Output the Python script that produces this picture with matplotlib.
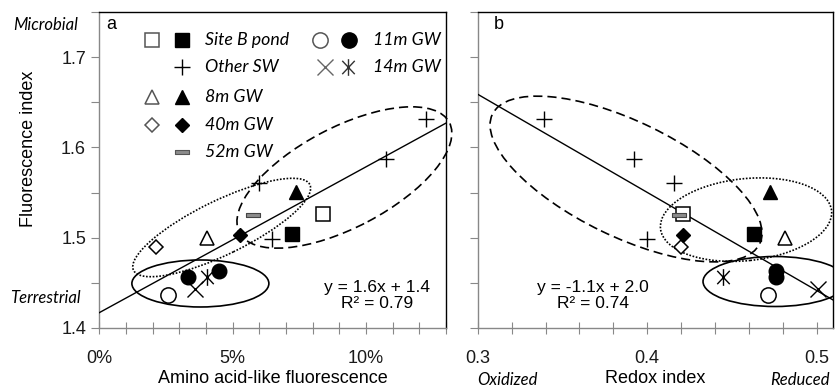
import numpy as np
import matplotlib.pyplot as plt
from matplotlib.patches import Ellipse
from matplotlib.path import Path
from matplotlib import transforms
from matplotlib.ticker import MultipleLocator, PercentFormatter, FormatStrFormatter

plt.rcParams['font.family'] = ['Liberation Sans', 'DejaVu Sans']

# fluorescence index (fi), amino acid-like fluorescence (aa, fraction), redox index (ri)
sb_open_fi, sb_open_aa, sb_open_ri = [1.526], [0.0837], [0.421]
sb_fill_fi, sb_fill_aa, sb_fill_ri = [1.504], [0.0724], [0.463]
sw_fi = [1.632, 1.587, 1.561, 1.499]
sw_aa = [0.1225, 0.1076, 0.0597, 0.0649]
sw_ri = [0.339, 0.392, 0.416, 0.400]
gw8_open_fi, gw8_open_aa, gw8_open_ri = [1.500], [0.0403], [0.481]
gw8_fill_fi, gw8_fill_aa, gw8_fill_ri = [1.551], [0.0738], [0.4725]
gw40_open_fi, gw40_open_aa, gw40_open_ri = [1.490], [0.0212], [0.4198]
gw40_fill_fi, gw40_fill_aa, gw40_fill_ri = [1.503], [0.0529], [0.421]
gw52_fi, gw52_aa, gw52_ri = [1.525], [0.0576], [0.419]
gw11_open_fi, gw11_open_aa, gw11_open_ri = [1.437], [0.0257], [0.4715]
gw11_fill_fi, gw11_fill_aa, gw11_fill_ri = [1.457, 1.463], [0.0334, 0.0450], [0.476, 0.476]
gw14_x_fi, gw14_x_aa, gw14_x_ri = [1.443], [0.0359], [0.501]
gw14_ast_fi, gw14_ast_aa, gw14_ast_ri = [1.457], [0.0405], [0.445]

# trend lines (slope, intercept)
fit_a = (1.615, 1.417)
fit_b = (-1.087, 1.985)
eq_a = 'y = 1.6x + 1.4\nR² = 0.79'
eq_b = 'y = -1.1x + 2.0\nR² = 0.74'

legend_rows = ['Site B pond', 'Other SW', '8m GW', '40m GW', '52m GW']
legend_right = ['11m GW', '14m GW']

ast = Path([(0, -1), (0, 1), (-0.75, -0.8), (0.75, 0.8), (-0.75, 0.8), (0.75, -0.8)],
           [Path.MOVETO, Path.LINETO] * 3)
dash = Path([(-1, -0.28), (1, -0.28), (1, 0.28), (-1, 0.28), (-1, -0.28)],
            [Path.MOVETO, Path.LINETO, Path.LINETO, Path.LINETO, Path.CLOSEPOLY])

op = dict(mfc='white', mec='k', mew=1.1, ls='none')
fl = dict(mfc='k', mec='k', mew=1.0, ls='none')

styles = [
    ('sb_open', 's', 9.5, op), ('sb_fill', 's', 9.5, fl),
    ('sw', '+', 11, dict(mec='k', mew=1.0, ls='none')),
    ('gw8_open', '^', 9.5, op), ('gw8_fill', '^', 9.5, fl),
    ('gw40_open', 'D', 7.2, op), ('gw40_fill', 'D', 7.2, fl),
    ('gw52', dash, 10, dict(mfc='#8c8c8c', mec='#444444', mew=0.8, ls='none')),
    ('gw11_open', 'o', 11, op), ('gw11_fill', 'o', 10.5, fl),
    ('gw14_x', 'x', 12, dict(mec='k', mew=1.0, ls='none')),
    ('gw14_ast', ast, 12, dict(mec='k', mew=1.0, ls='none')),
]

fig = plt.figure(figsize=(8.35, 3.89), dpi=100)
ax_a = fig.add_axes([99.3 / 835, 61 / 389, 346.7 / 835, 316 / 389])
ax_b = fig.add_axes([477.7 / 835, 61 / 389, 355.3 / 835, 316 / 389])


def ring(ax, cx, cy, w, h, ang, ls, clip=True):
    tr = fig.dpi_scale_trans + transforms.ScaledTranslation(cx, cy, ax.transData)
    e = Ellipse((0, 0), w / 100, h / 100, angle=ang, transform=tr, fill=False,
                ec='k', lw=1.2, ls=ls, clip_on=clip)
    ax.add_patch(e)


for ax, xkey in [(ax_a, 'aa'), (ax_b, 'ri')]:
    for name, mk, ms, kw in styles:
        xs = globals()[name + '_' + xkey]
        ys = globals()[name + '_fi']
        ax.plot(xs, ys, marker=mk, ms=ms, zorder=4, clip_on=False, **kw)
    ax.set_ylim(1.4, 1.75)
    ax.yaxis.set_major_locator(MultipleLocator(0.1))
    ax.yaxis.set_minor_locator(MultipleLocator(0.05))
    ax.yaxis.set_major_formatter(FormatStrFormatter('%.1f'))
    ax.tick_params(axis='y', which='both', direction='out', length=6, width=0.8,
                   color='#888888', labelsize=13, pad=3.5, labelcolor='#1a1a1a')
    ax.tick_params(axis='x', which='both', direction='inout', length=8, width=0.8,
                   color='#888888', labelsize=13, pad=12, labelcolor='#1a1a1a')
    for s in ['left', 'bottom']:
        ax.spines[s].set_color('#888888')
    for s in ['top', 'right']:
        ax.spines[s].set_color('k')
    for s in ax.spines.values():
        s.set_linewidth(1.0)

# panel a
ax_a.set_xlim(0, 0.13)
ax_a.xaxis.set_major_locator(MultipleLocator(0.05))
ax_a.xaxis.set_minor_locator(MultipleLocator(0.01))
ax_a.xaxis.set_major_formatter(PercentFormatter(xmax=1, decimals=0))
ax_a.axline((0, fit_a[1]), slope=fit_a[0], color='k', lw=1.0, zorder=3)
ring(ax_a, 0.0919, 1.5667, 237, 100, 27.7, (0, (5.5, 3)), clip=False)
ring(ax_a, 0.0459, 1.5113, 196, 54, 25.9, (0, (1, 1)))
ring(ax_a, 0.0379, 1.4493, 137, 47, 0, '-')
ax_a.set_xlabel('Amino acid-like fluorescence', fontsize=13)
ax_a.xaxis.set_label_coords(0.5, -0.133)
ax_a.set_ylabel('Fluorescence index', fontsize=13)
ax_a.yaxis.set_label_coords(-0.18, 0.566)
ax_a.text(0.80, 0.103, eq_a, transform=ax_a.transAxes, ha='center', va='center',
          fontsize=12.5, linespacing=1.15)
ax_a.text(0.034, 0.962, 'a', transform=ax_a.transAxes, ha='center', va='center', fontsize=13)

# manual legend
lx_open, lx_fill, lx_text = 0.151, 0.238, 0.305
row_y = [0.911, 0.827, 0.732, 0.642, 0.558]
leg_marks = [(0, 's', 9.5, True), (0, 's', 9.5, False), (1, '+', 11, False),
             (2, '^', 9.5, True), (2, '^', 9.5, False), (3, 'D', 7, True),
             (3, 'D', 7, False), (4, dash, 10, None)]
for row, mk, ms, is_open in leg_marks:
    if is_open is None:
        kw = dict(mfc='#8c8c8c', mec='#555555', mew=0.8)
        x = lx_fill
    elif is_open:
        kw = dict(mfc='white', mec='#555555', mew=1.1)
        x = lx_open
    else:
        kw = dict(mfc='k', mec='k', mew=1.0)
        x = lx_fill
    ax_a.plot(x, row_y[row], marker=mk, ms=ms, transform=ax_a.transAxes, ls='none', **kw)
for row, lab in enumerate(legend_rows):
    ax_a.text(lx_text, row_y[row], lab, transform=ax_a.transAxes, va='center', ha='left',
              fontsize=12.8, family=['Lato', 'DejaVu Sans'], style='italic')
ax_a.plot(0.637, row_y[0], marker='o', ms=11, mfc='white', mec='#555555', mew=1.1,
          transform=ax_a.transAxes)
ax_a.plot(0.720, row_y[0], marker='o', ms=11, mfc='k', mec='k', transform=ax_a.transAxes)
ax_a.plot(0.651, row_y[1], marker='x', ms=12, mec='#666666', mew=1.0, transform=ax_a.transAxes)
ax_a.plot(0.718, row_y[1], marker=ast, ms=12, mec='#333333', mew=1.0, transform=ax_a.transAxes)
for row, lab in enumerate(legend_right):
    ax_a.text(0.790, row_y[row], lab, transform=ax_a.transAxes, va='center', ha='left',
              fontsize=12.8, family=['Lato', 'DejaVu Sans'], style='italic')

# panel b
ax_b.set_xlim(0.3, 0.5096)
ax_b.xaxis.set_major_locator(MultipleLocator(0.1))
ax_b.xaxis.set_minor_locator(MultipleLocator(0.02))
ax_b.xaxis.set_major_formatter(FormatStrFormatter('%.1f'))
ax_b.tick_params(axis='y', labelleft=False)
ax_b.axline((0.3, fit_b[0] * 0.3 + fit_b[1]), slope=fit_b[0], color='k', lw=1.0, zorder=3)
ring(ax_b, 0.3875, 1.565, 297, 115, -25.85, (0, (5.5, 3)))
ring(ax_b, 0.4583, 1.520, 172, 82, 6.0, (0, (1, 1)))
ring(ax_b, 0.4754, 1.4515, 144, 50, 0, '-')
ax_b.set_xlabel('Redox index', fontsize=13)
ax_b.xaxis.set_label_coords(0.5, -0.133)
ax_b.text(0.3245, 0.103, eq_b, transform=ax_b.transAxes, ha='center', va='center',
          fontsize=12.5, linespacing=1.15)
ax_b.text(0.058, 0.962, 'b', transform=ax_b.transAxes, ha='center', va='center', fontsize=13)

it = dict(family=['Lato', 'DejaVu Sans'], style='italic', fontsize=12, ha='center', va='center')
fig.text(46 / 835, 1 - 25 / 389, 'Microbial', **it)
fig.text(45 / 835, 1 - 298 / 389, 'Terrestrial', **it)
fig.text(507.7 / 835, 1 - 380 / 389, 'Oxidized', **it)
fig.text(800 / 835, 1 - 380 / 389, 'Reduced', **it)

fig.savefig('out.png', dpi=100)
